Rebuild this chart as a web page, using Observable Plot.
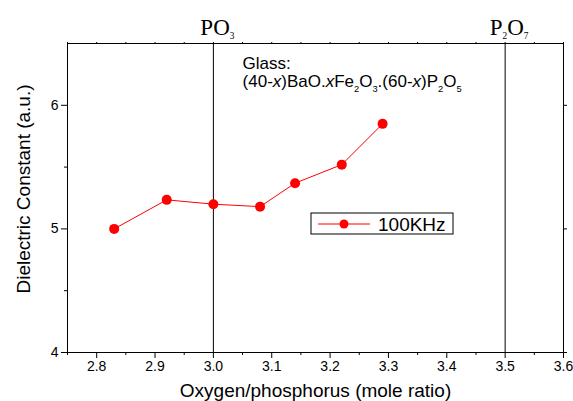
<!DOCTYPE html>
<html>
<head>
<meta charset="utf-8">
<script src="https://cdn.jsdelivr.net/npm/d3@7"></script>
<script src="https://cdn.jsdelivr.net/npm/@observablehq/plot@0.6"></script>
<style>
  html, body { margin: 0; padding: 0; background: #fff; }
  #chart svg { display: block; font-family: Arial, "Liberation Sans", sans-serif; }
</style>
</head>
<body>
<div id="chart"></div>
<script>
// ---- data ----
const oxygenRatio = [2.83, 2.92, 3.00, 3.08, 3.14, 3.22, 3.29];
const dielectric  = [5.00, 5.235, 5.20, 5.18, 5.37, 5.52, 5.85];
const seriesName = "100KHz";
const xTicks = [2.8, 2.9, 3.0, 3.1, 3.2, 3.3, 3.4, 3.5, 3.6];
const xMinorTicks = [2.75, 2.85, 2.95, 3.05, 3.15, 3.25, 3.35, 3.45, 3.55];
const yTicks = [4, 5, 6];
const yMinorTicks = [4.5, 5.5];
const refLines = [3.0, 3.5];
const refLabels = ["PO₃", "P₂O₇"];
const noteLines = ["Glass:", "(40-𝑥)BaO.𝑥Fe₂O₃.(60-𝑥)P₂O₅"];
const xLabel = "Oxygen/phosphorus (mole ratio)";
const yLabel = "Dielectric Constant (a.u.)";

const data = oxygenRatio.map((x, i) => ({x, y: dielectric[i]}));
const refData = refLines.map((x, i) => ({x, label: refLabels[i]}));
const topTicks = d3.range(2.75, 3.6001, 0.05).map(v => +v.toFixed(2));

const plot = Plot.plot({
  width: 573,
  height: 401,
  marginLeft: 67,
  marginRight: 10,
  marginTop: 43,
  marginBottom: 49,
  x: {domain: [2.75, 3.6]},
  y: {domain: [4, 6.5]},
  style: {fontFamily: "Arial, 'Liberation Sans', sans-serif", color: "#000"},
  marks: [
    Plot.ruleX(refData, {x: "x", stroke: "#000", strokeWidth: 1}),
    Plot.axisX({ticks: xTicks, tickSize: 6, tickPadding: 3, tickFormat: d3.format(".1f"), fontSize: 14, label: null}),
    Plot.axisX({ticks: xMinorTicks, tickSize: 3, text: null, label: null}),
    Plot.axisX({anchor: "top", ticks: topTicks, tickSize: 2, text: null, label: null}),
    Plot.axisY({ticks: yTicks, tickSize: 6, tickPadding: 3, tickFormat: d3.format("d"), fontSize: 14, label: null}),
    Plot.axisY({ticks: yMinorTicks, tickSize: 3, text: null, label: null}),
    Plot.axisY({anchor: "right", ticks: yTicks, tickSize: 3, text: null, label: null}),
    Plot.frame({stroke: "#000", strokeWidth: 1}),
    Plot.text(refData, {x: "x", text: "label", frameAnchor: "top", dy: -25, dx: 4, fontSize: 23, fontFamily: "'Liberation Serif', 'Times New Roman', serif", textAnchor: "middle"}),
    Plot.text([noteLines[0]], {x: 3.05, y: 6.335, text: d => d, textAnchor: "start", fontSize: 17}),
    Plot.text([noteLines[1]], {x: 3.05, y: 6.19, text: d => d, textAnchor: "start", fontSize: 17}),
    Plot.line(data, {x: "x", y: "y", stroke: "#ff0000", strokeWidth: 1}),
    Plot.dot(data, {x: "x", y: "y", r: 5, fill: "#ff0000", stroke: "none"}),
    Plot.text([xLabel], {text: d => d, frameAnchor: "bottom", textAnchor: "middle", dy: 44, fontSize: 19}),
    Plot.text([yLabel], {text: d => d, frameAnchor: "left", textAnchor: "middle", lineAnchor: "middle", dx: -44, dy: -9, rotate: -90, fontSize: 19})
  ]
});

// convert unicode subscripts and math-italic x into tspans
const subMap = {"₀":"0","₁":"1","₂":"2","₃":"3","₄":"4","₅":"5","₆":"6","₇":"7","₈":"8","₉":"9"};
plot.querySelectorAll("text").forEach(t => {
  const s = t.textContent;
  if (!/[₀-₉]|𝑥/u.test(s)) return;
  const fs = parseFloat(getComputedStyle(t).fontSize) || 15;
  const segs = [];
  for (const ch of Array.from(s)) {
    let type = "n", c = ch;
    if (subMap[ch]) { type = "s"; c = subMap[ch]; }
    else if (ch === "𝑥") { type = "i"; c = "x"; }
    const last = segs[segs.length - 1];
    if (last && last.type === type) last.text += c; else segs.push({type, text: c});
  }
  while (t.firstChild) t.removeChild(t.firstChild);
  let shifted = false;
  const shift = fs * 0.3;
  for (const seg of segs) {
    const ts = document.createElementNS("http://www.w3.org/2000/svg", "tspan");
    ts.textContent = seg.text;
    if (seg.type === "s") {
      ts.setAttribute("font-size", (fs * 0.62).toFixed(1));
      if (!shifted) { ts.setAttribute("dy", shift.toFixed(1)); shifted = true; }
    } else {
      if (shifted) { ts.setAttribute("dy", (-shift).toFixed(1)); shifted = false; }
      if (seg.type === "i") ts.setAttribute("font-style", "italic");
    }
    t.appendChild(ts);
  }
});

// legend box (inside the plot area)
const svg = d3.select(plot);
const lg = svg.append("g").attr("transform", "translate(311,213)");
lg.append("rect").attr("width", 142).attr("height", 21).attr("fill", "#fff").attr("stroke", "#000").attr("stroke-width", 1);
lg.append("line").attr("x1", 7).attr("x2", 59).attr("y1", 11).attr("y2", 11).attr("stroke", "#ff0000").attr("stroke-width", 1);
lg.append("circle").attr("cx", 33).attr("cy", 11).attr("r", 4.5).attr("fill", "#ff0000");
lg.append("text").attr("x", 67).attr("y", 18).attr("font-size", 19).attr("text-anchor", "start").attr("fill", "#000").text(seriesName);

document.getElementById("chart").appendChild(plot);
</script>
</body>
</html>
